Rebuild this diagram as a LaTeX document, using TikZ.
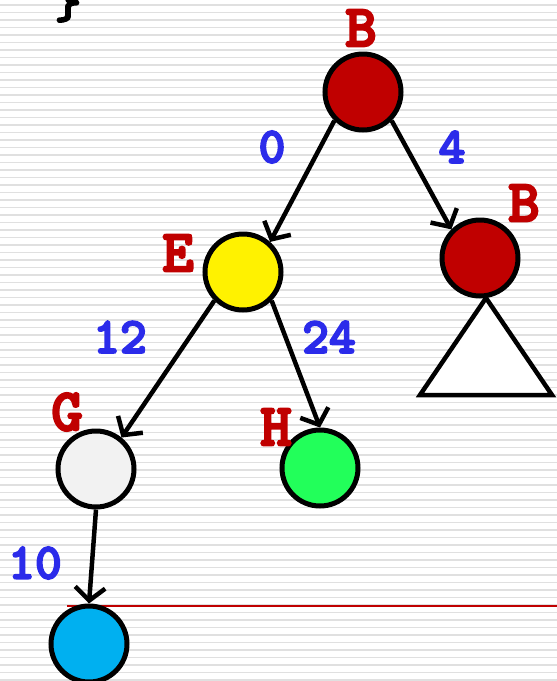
\documentclass[tikz,border=0pt]{standalone}
\usepackage{fontspec}
\usepackage{tikz}
\usetikzlibrary{arrows.meta}
\newfontfamily\codefont{Latin Modern Mono Light}[BoldFeatures={FakeBold=3.6}]
\definecolor{keyred}{HTML}{C00000}
\definecolor{wblue}{HTML}{2B2BEA}
\definecolor{hgreen}{HTML}{22FF5A}
\definecolor{leafblue}{HTML}{00B0F0}
\definecolor{ggray}{HTML}{F2F2F2}

\begin{document}
\begin{tikzpicture}[x=1pt,y=-1pt,
    vertex/.style={circle,draw,line width=5pt,minimum size=76pt,inner sep=0pt},
    edge/.style={line width=4.5pt,-{Straight Barb[length=13pt,width=30pt]}},
    keylbl/.style={text=keyred,font=\codefont\bfseries\fontsize{60}{60}\selectfont},
    wlbl/.style={text=wblue,font=\codefont\bfseries\fontsize{51}{51}\selectfont},
    stripe/.style={black!12,line width=1.8pt}]
        \useasboundingbox (0,0) rectangle (557,681);
        % Striped slide background
        \foreach \y in {5,12.5,...,681}
            \draw[stripe] (0,\y) -- (557,\y);
        \node[anchor=base,font=\codefont\bfseries\fontsize{50}{50}\selectfont] (brace) at (68,18) {\}};
        % Cut-off line
        \draw[keyred,line width=2pt] (67,606) -- (557,606);
        % Subtree below the right B
        \draw[line width=4.5pt,fill=white] (486,298) -- (420,395) -- (552,395) -- cycle;
        % Tree nodes
        \node[vertex,fill=keyred] (root) at (363,92) {};
        \node[vertex,fill=yellow] (e) at (243,272) {};
        \node[vertex,fill=keyred] (bk) at (480,258) {};
        \node[vertex,fill=ggray] (g) at (96,469) {};
        \node[vertex,fill=hgreen] (h) at (320,468) {};
        \node[vertex,fill=leafblue] (leaf) at (89,644) {};
        % Edges
        \draw[edge] (root.south west) -- (e.48);
        \draw[edge] (root.south east) -- (bk.north west);
        \draw[edge] (e.south west) -- (g.51);
        \draw[edge] (e.south east) -- (h.north);
        \draw[edge] (g.south) -- (leaf.north);
        % Node keys
        \node[keylbl] (kroot) at (361,28) {B};
        \node[keylbl] (kbk) at (524,203) {B};
        \node[keylbl] (ke) at (178,253) {E};
        \node[keylbl] (kg) at (67,412) {G};
        \node[keylbl] (kh) at (276,427) {H};
        % Edge weights
        \node[wlbl] (w0) at (272,147) {0};
        \node[wlbl] (w4) at (452,147) {4};
        \node[wlbl] (w12) at (120,337) {12};
        \node[wlbl] (w24) at (329,337) {24};
        \node[wlbl] (w10) at (35,563) {10};
\end{tikzpicture}
\end{document}
